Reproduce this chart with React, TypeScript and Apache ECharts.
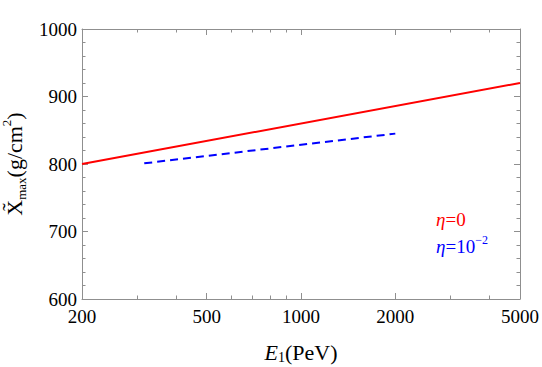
import React, { useEffect, useRef } from "react";
import * as echarts from "echarts";

// Data
const E_RED = [200, 5000];
const X_RED = [800, 920];
const E_BLUE = [316, 2000];
const X_BLUE = [801, 845];

const X_MAJOR = [200, 500, 1000, 2000, 5000];
const X_MINOR = [300, 400, 600, 700, 800, 900, 3000, 4000];
const Y_MIN = 600;
const Y_MAX = 1000;
const Y_STEP = 100;
const X_MIN = 200;
const X_MAX = 5000;

const SERIF = "Times New Roman";
const AXIS_COLOR = "#8f8f8f";

const lg = (v: number) => Math.log10(v);

export default function App() {
  const ref = useRef<HTMLDivElement>(null);
  useEffect(() => {
    if (!ref.current) return;
    const chart = echarts.init(ref.current, null, { renderer: "svg" });
    const grid = { left: 82, top: 29, right: 22, bottom: 68, containLabel: false, outerBoundsMode: "none" };
    const xBase = (position: "top" | "bottom", vals: number[], len: number, showLine: boolean) => ({
      type: "value" as const,
      min: lg(X_MIN),
      max: lg(X_MAX),
      position,
      splitLine: { show: false },
      axisLine: { show: showLine, lineStyle: { color: AXIS_COLOR, width: 1 } },
      axisTick: {
        show: true,
        inside: true,
        length: len,
        customValues: vals.map(lg),
        lineStyle: { color: AXIS_COLOR, width: 1 },
      },
      axisLabel: { show: false },
    });
    const xMain: any = xBase("bottom", X_MAJOR, 6, true);
    xMain.axisLabel = {
      show: true,
      customValues: X_MAJOR.map(lg),
      formatter: (v: number) => String(Math.round(Math.pow(10, v))),
      fontFamily: SERIF,
      fontSize: 19,
      color: "#000",
      margin: 8,
      hideOverlap: false,
    };
    xMain.name = "{e|E}{sub|1}{p|(PeV)}";
    xMain.nameLocation = "middle";
    xMain.nameGap = 41;
    xMain.nameTextStyle = {
      fontFamily: SERIF,
      fontSize: 22,
      color: "#000",
      rich: {
        e: { fontFamily: SERIF, fontSize: 22, fontStyle: "italic", lineHeight: 24, color: "#000" },
        sub: { fontFamily: SERIF, fontSize: 14, lineHeight: 10, verticalAlign: "bottom", color: "#000" },
        p: { fontFamily: SERIF, fontSize: 22, lineHeight: 24, color: "#000" },
      },
    };

    const yBase = (position: "left" | "right") => ({
      type: "value" as const,
      min: Y_MIN,
      max: Y_MAX,
      interval: Y_STEP,
      position,
      splitLine: { show: false },
      axisLine: { show: true, lineStyle: { color: AXIS_COLOR, width: 1 } },
      axisTick: { show: true, inside: true, length: 6, lineStyle: { color: AXIS_COLOR, width: 1 } },
      minorTick: { show: true, splitNumber: 5, length: 3.5, lineStyle: { color: AXIS_COLOR, width: 1 } },
      axisLabel: { show: false },
    });
    const yMain: any = yBase("left");
    yMain.axisLabel = {
      show: true,
      fontFamily: SERIF,
      fontSize: 19,
      color: "#000",
      margin: 5,
      formatter: (v: number) => String(v),
    };
    yMain.name = "{x|X\u0303}{sub|max}{p|(g/cm}{sup|2}{p|)}";
    yMain.nameLocation = "middle";
    yMain.nameRotate = 90;
    yMain.nameGap = 44;
    yMain.nameTextStyle = {
      fontFamily: SERIF,
      fontSize: 22,
      color: "#000",
      rich: {
        x: { fontFamily: SERIF, fontSize: 22, lineHeight: 28, color: "#000" },
        sub: { fontFamily: SERIF, fontSize: 13, lineHeight: 12, verticalAlign: "bottom", color: "#000" },
        p: { fontFamily: SERIF, fontSize: 22, lineHeight: 28, color: "#000" },
        sup: { fontFamily: SERIF, fontSize: 13, lineHeight: 16, verticalAlign: "top", color: "#000" },
      },
    };

    chart.setOption({
      animation: false,
      grid,
      xAxis: [
        xMain,
        xBase("bottom", X_MINOR, 3.5, false),
        xBase("top", X_MAJOR, 6, true),
        xBase("top", X_MINOR, 3.5, false),
      ],
      yAxis: [yMain, yBase("right")],
      series: [
        {
          type: "line",
          xAxisIndex: 0,
          yAxisIndex: 0,
          data: E_RED.map((e, i) => [lg(e), X_RED[i]]),
          symbol: "none",
          lineStyle: { color: "#ff0000", width: 2 },
        },
        {
          type: "line",
          xAxisIndex: 0,
          yAxisIndex: 0,
          data: E_BLUE.map((e, i) => [lg(e), X_BLUE[i]]),
          symbol: "none",
          lineStyle: { color: "#0000ff", width: 2, type: [8, 5] },
        },
      ],
      graphic: [
        {
          type: "text",
          left: 436,
          top: 210,
          style: {
            text: "{i|η}{n|=0}",
            fill: "#ff0000",
            fontFamily: SERIF,
            fontSize: 19,
            rich: {
              i: { fontFamily: SERIF, fontSize: 19, fontStyle: "italic", lineHeight: 24, fill: "#ff0000" },
              n: { fontFamily: SERIF, fontSize: 19, lineHeight: 24, fill: "#ff0000" },
            },
          },
        },
        {
          type: "text",
          left: 436,
          top: 234,
          style: {
            text: "{i|η}{n|=10}{sup|−2}",
            fill: "#0000ff",
            fontFamily: SERIF,
            fontSize: 19,
            rich: {
              i: { fontFamily: SERIF, fontSize: 19, fontStyle: "italic", lineHeight: 24, fill: "#0000ff" },
              n: { fontFamily: SERIF, fontSize: 19, lineHeight: 24, fill: "#0000ff" },
              sup: { fontFamily: SERIF, fontSize: 12, lineHeight: 14, verticalAlign: "top", fill: "#0000ff" },
            },
          },
        },
      ],
    });
    return () => chart.dispose();
  }, []);
  return <div ref={ref} style={{ width: 542, height: 367, position: "absolute", left: 0, top: 0 }} />;
}
